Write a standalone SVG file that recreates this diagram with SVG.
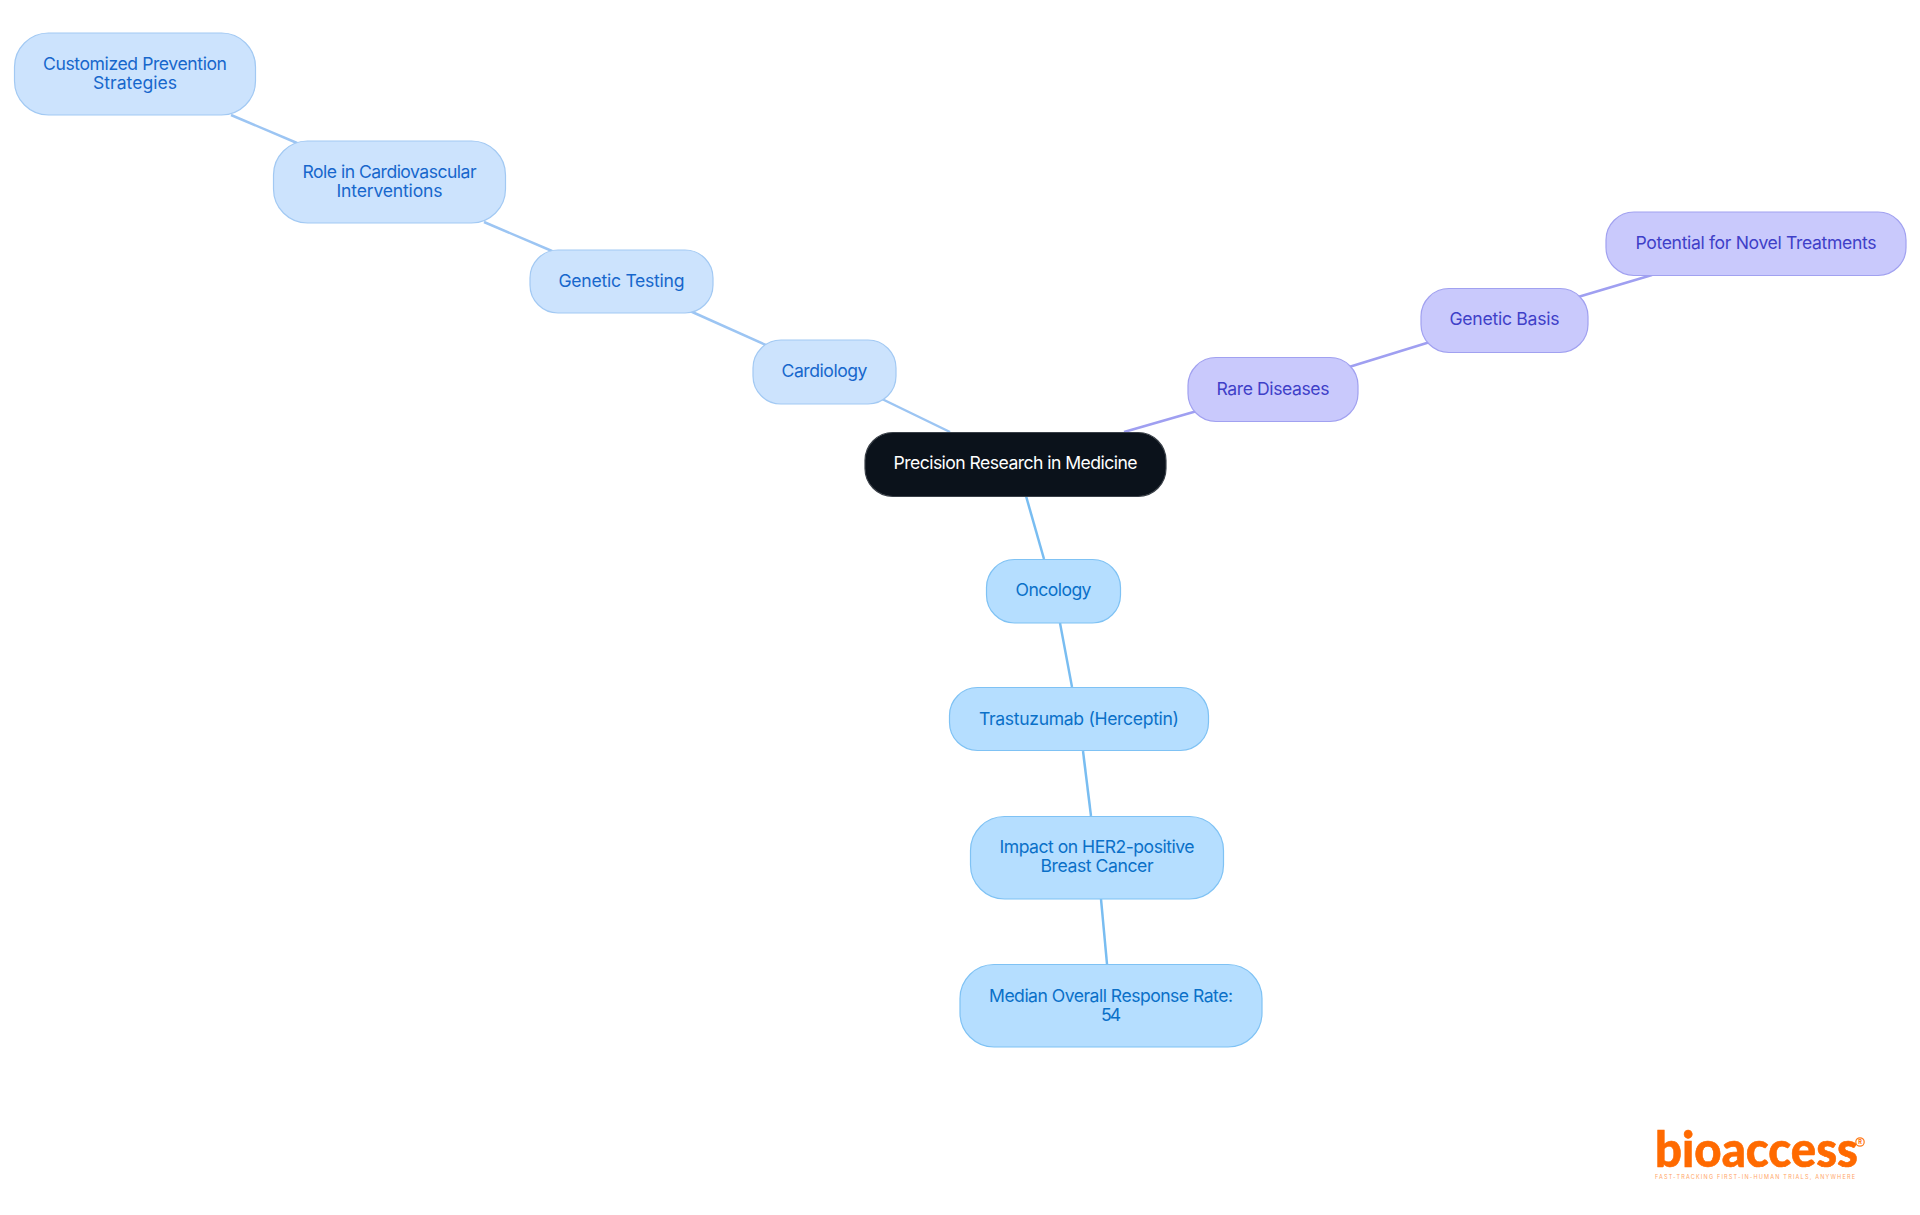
<svg xmlns="http://www.w3.org/2000/svg" width="1920" height="1215" viewBox="0 0 1920 1215">
<style>
text{font-family:"Inter","Noto Sans","Liberation Sans",sans-serif;font-size:17.6px;text-anchor:middle}
.n{stroke-width:1.2}
.edge{fill:none;stroke-width:2.5}
.c rect{fill:#cce3fd;stroke:#a2c9f3}.c text{fill:#1767cc}.c-e{stroke:#9cc5f3}
.o rect{fill:#b5deff;stroke:#7fc2f4}.o text{fill:#0a70c8}.o-e{stroke:#79bdf1}
.r rect{fill:#c9c9fc;stroke:#a1a1f0}.r text{fill:#3f3fc8}.r-e{stroke:#9f9ff1}
</style>
<rect width="1920" height="1215" fill="#fff"/>
<g id="connectors">
<line class="edge c-e" x1="882" y1="399" x2="950" y2="432"/>
<line class="edge c-e" x1="690" y1="311" x2="768" y2="346"/>
<line class="edge c-e" x1="484" y1="222" x2="552" y2="251"/>
<line class="edge c-e" x1="231" y1="115" x2="297" y2="143"/>
<line class="edge r-e" x1="1124" y1="432" x2="1197" y2="411"/>
<line class="edge r-e" x1="1349" y1="367" x2="1430" y2="342"/>
<line class="edge r-e" x1="1578" y1="297" x2="1652" y2="275"/>
<line class="edge o-e" x1="1026" y1="496" x2="1044" y2="559"/>
<line class="edge o-e" x1="1060" y1="623" x2="1072" y2="687"/>
<line class="edge o-e" x1="1083" y1="751" x2="1091" y2="816"/>
<line class="edge o-e" x1="1101" y1="899" x2="1107" y2="964"/>
</g>
<g id="root"><rect x="865" y="432.5" width="301" height="64" rx="28" fill="#0b121b" stroke="#3a4048" stroke-width="1.2"/><text x="1015.5" y="469" fill="#fff" textLength="244">Precision Research in Medicine</text></g>
<g id="cardiology" class="c"><rect class="n" x="753" y="340" width="143" height="64" rx="28"/><text x="824.5" y="377" textLength="86">Cardiology</text></g>
<g id="genetic-testing" class="c"><rect class="n" x="530" y="250" width="183" height="63" rx="28"/><text x="621.5" y="287" textLength="126">Genetic Testing</text></g>
<g id="role" class="c"><rect class="n" x="273.5" y="141" width="232" height="82" rx="34"/><text x="389.5" y="178" textLength="174">Role in Cardiovascular</text><text x="389.5" y="197" textLength="106">Interventions</text></g>
<g id="customized" class="c"><rect class="n" x="14.5" y="33" width="241" height="82" rx="34"/><text x="135" y="70" textLength="184">Customized Prevention</text><text x="135" y="89" textLength="84">Strategies</text></g>
<g id="rare" class="r"><rect class="n" x="1188" y="357.5" width="170" height="64" rx="28"/><text x="1273" y="395" textLength="113">Rare Diseases</text></g>
<g id="genetic-basis" class="r"><rect class="n" x="1421" y="288.5" width="167" height="64" rx="28"/><text x="1504.5" y="325" textLength="110">Genetic Basis</text></g>
<g id="potential" class="r"><rect class="n" x="1606" y="212" width="300" height="63.5" rx="28"/><text x="1756" y="249" textLength="241">Potential for Novel Treatments</text></g>
<g id="oncology" class="o"><rect class="n" x="986.5" y="559.5" width="134" height="63.5" rx="28"/><text x="1053.5" y="596" textLength="76">Oncology</text></g>
<g id="trastuzumab" class="o"><rect class="n" x="949.5" y="687.5" width="259" height="63" rx="28"/><text x="1079" y="725" textLength="200">Trastuzumab (Herceptin)</text></g>
<g id="impact" class="o"><rect class="n" x="970.5" y="816.5" width="253" height="82.5" rx="34"/><text x="1097" y="853" textLength="195">Impact on HER2-positive</text><text x="1097" y="872" textLength="113">Breast Cancer</text></g>
<g id="median" class="o"><rect class="n" x="960" y="964.5" width="302" height="82.5" rx="34"/><text x="1111" y="1002" textLength="244">Median Overall Response Rate:</text><text x="1111" y="1020.5" textLength="20">54</text></g>
<g id="logo">
<text x="1655" y="1167" style="font-size:50px;font-weight:900;text-anchor:start;font-family:'Lato','Inter',sans-serif" fill="#ff6a00" stroke="#ff6a00" stroke-width="0.6" textLength="203" lengthAdjust="spacingAndGlyphs">bioaccess</text>
<text x="1655" y="1179" style="font-size:5.5px;text-anchor:start" fill="#ffa566" textLength="200">FAST-TRACKING FIRST-IN-HUMAN TRIALS, ANYWHERE</text>
<circle cx="1860" cy="1142" r="4.2" fill="none" stroke="#ff7a1a" stroke-width="1.2"/>
<text x="1860" y="1144" style="font-size:5.5px;font-weight:700" fill="#ff6a00">R</text>
</g>
</svg>
